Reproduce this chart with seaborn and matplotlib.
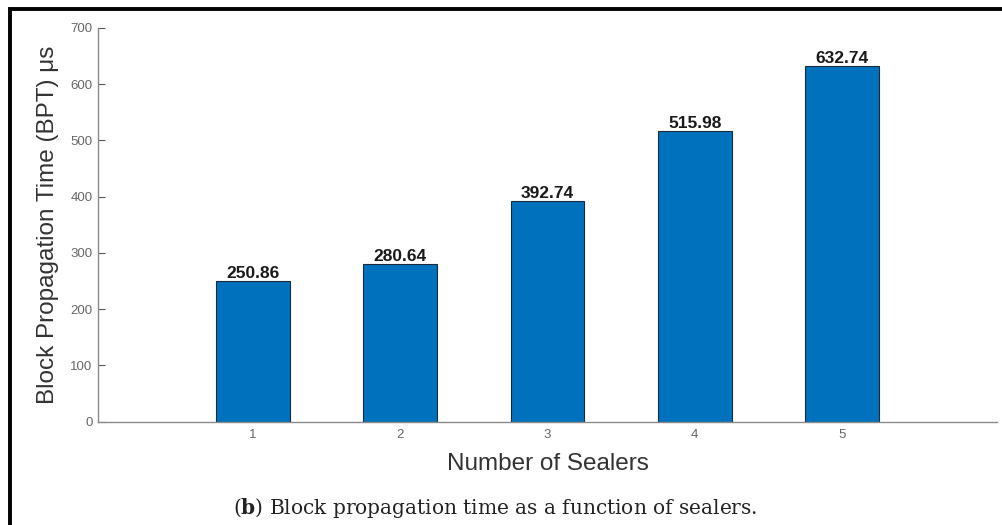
import matplotlib
matplotlib.use("Agg")
import matplotlib.pyplot as plt
import seaborn as sns
import pandas as pd
from matplotlib.patches import Rectangle

sealers = ["1", "2", "3", "4", "5"]
bpt = [250.86, 280.64, 392.74, 515.98, 632.74]
yticks = [0, 100, 200, 300, 400, 500, 600, 700]

sns.set_theme(style="white")
plt.rcParams['font.family'] = ['Liberation Sans', 'DejaVu Sans']
plt.rcParams['mathtext.fontset'] = 'custom'
plt.rcParams['mathtext.rm'] = 'DejaVu Serif'
plt.rcParams['mathtext.bf'] = 'DejaVu Serif:bold'

df = pd.DataFrame({"sealers": sealers, "bpt": bpt})

fig = plt.figure(figsize=(10.02, 5.25), dpi=100)
ax = fig.add_axes([0.0978, 0.1968, 0.995 - 0.0978, 0.9467 - 0.1968])

sns.barplot(data=df, x="sealers", y="bpt", order=sealers, color="#0072BD",
            saturation=1, width=0.5, edgecolor="#1a2a3a", linewidth=0.8, ax=ax)

ax.set_xlim(-1.05, 4 + 1.05)
ax.set_ylim(0, 700)
ax.set_yticks(yticks)
ax.set_yticklabels([str(v) for v in yticks])

spine_col = "#8a8a8a"
for s in ["top", "right"]:
    ax.spines[s].set_visible(False)
for s in ["left", "bottom"]:
    ax.spines[s].set_color(spine_col)
    ax.spines[s].set_linewidth(1.0)
ax.tick_params(axis="both", direction="in", length=5, width=0.8, color="#555555",
               labelsize=9.5, labelcolor="#666666", pad=5, left=True, bottom=True)
ax.tick_params(axis="y", pad=4)

ax.set_xlabel("Number of Sealers", fontsize=17.5, color="#333333")
ax.set_ylabel("Block Propagation Time (BPT) μs", fontsize=17.5, color="#333333")
ax.xaxis.set_label_coords(0.5, -0.08)
ax.yaxis.set_label_coords(-0.0435, 0.5)

for c in ax.containers:
    ax.bar_label(c, labels=[f"{v:.2f}" for v in bpt], fontsize=12.5, fontweight="bold",
                 color="#1a1a1a", padding=0)

fig.text(0.494, 1 - 508 / 525, r"($\mathbf{b}$) Block propagation time as a function of sealers.",
         ha="center", va="center", fontsize=14.5, family="DejaVu Serif", color="#222222")

fig.add_artist(Rectangle((9.5 / 1002, -0.2), 1.5, 1 - 8.5 / 525 + 0.2,
                         transform=fig.transFigure, fill=False, edgecolor="black",
                         linewidth=2.8, clip_on=False))

fig.savefig("out.png", dpi=100)
